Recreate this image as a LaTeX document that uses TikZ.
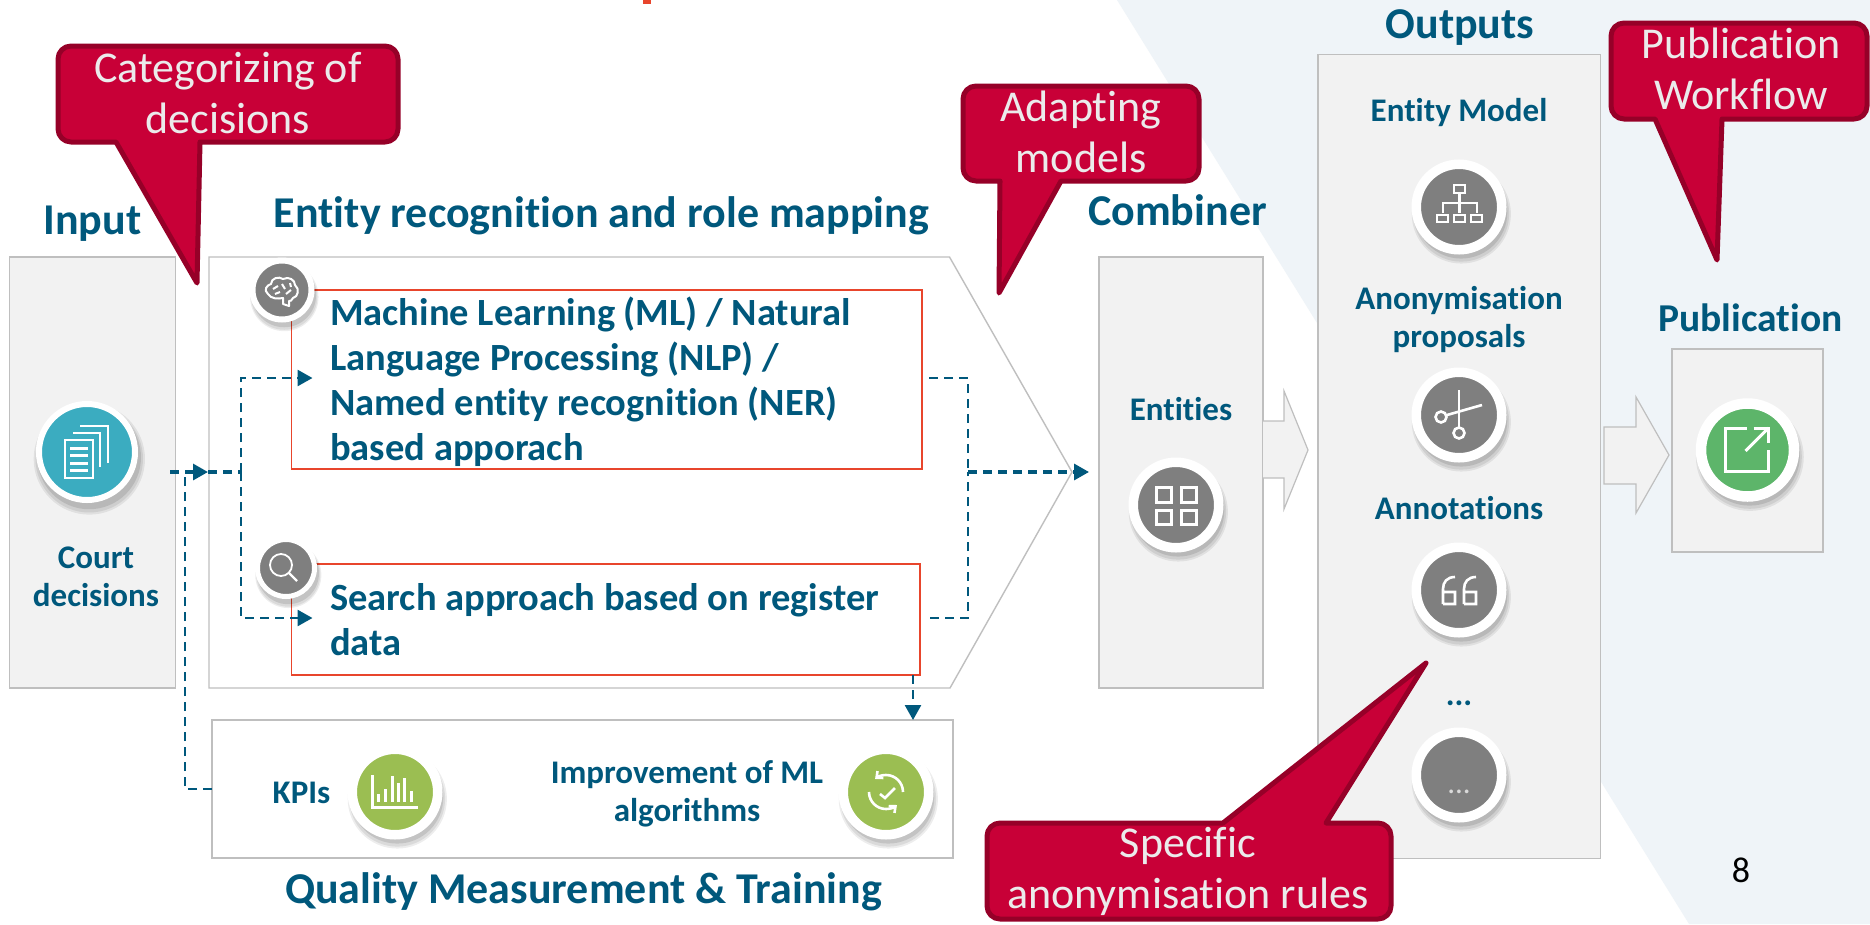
\documentclass[tikz,border=0pt]{standalone}
\usepackage{fontspec}
\setmainfont[Ligatures=NoCommon]{Carlito}
\usetikzlibrary{arrows.meta,shadows}

\definecolor{slate}{HTML}{00587C}
\definecolor{crimson}{HTML}{C80037}
\definecolor{crimsonedge}{HTML}{960028}
\definecolor{panelfill}{HTML}{F2F2F2}
\definecolor{panelline}{HTML}{BFBFBF}
\definecolor{redline}{HTML}{E8452C}
\definecolor{paleblue}{HTML}{EFF4F8}
\definecolor{iconteal}{HTML}{3BACC0}
\definecolor{icongrey}{HTML}{7F7F7F}
\definecolor{iconlime}{HTML}{9BBE52}
\definecolor{icongreen}{HTML}{5DB56A}

\tikzset{
  panel/.style={draw=panelline, fill=panelfill, line width=1.4pt, inner sep=0pt, outer sep=0pt},
  plainpanel/.style={panel, fill=white},
  redbox/.style={draw=redline, fill=white, line width=1.2pt, inner sep=0pt, outer sep=0pt},
  heading/.style={text=slate, font=\fontsize{44}{48}\selectfont\bfseries, anchor=base, inner sep=0pt},
  itemtext/.style={text=slate, font=\fontsize{38.5}{45}\selectfont\bfseries, anchor=base west, align=left, inner sep=0pt},
  smalltext/.style={text=slate, font=\fontsize{33}{38}\selectfont\bfseries, anchor=base, align=center, inner sep=0pt},
  calloutbody/.style={draw=crimsonedge, fill=crimson, line width=5pt, line join=round},
  callouttext/.style={text=white!92!black, font=\fontsize{44}{51}\selectfont, anchor=base, align=center, inner sep=0pt},
  softshadow/.style={
    general shadow={shadow xshift=2pt, shadow yshift=-6pt, shadow scale=1.16, fill=black, opacity=.07},
    general shadow={shadow xshift=2pt, shadow yshift=-6pt, shadow scale=1.12, fill=black, opacity=.08},
    general shadow={shadow xshift=2pt, shadow yshift=-5pt, shadow scale=1.08, fill=black, opacity=.1}},
  badge/.style={circle, draw=white, inner sep=0pt, outer sep=0pt, softshadow},
  bigbadge/.style={badge, minimum size=85.5pt, line width=9.5pt, fill=#1},
  tinybadge/.style={badge, minimum size=59pt, line width=6pt, fill=icongrey},
  iconline/.style={draw=white, line width=2.6pt},
  flow/.style={draw=slate, line width=2.6pt, dash pattern=on 9pt off 6pt},
  boldflow/.style={flow, line width=3.2pt},
  flowtip/.style={-{Triangle[length=15pt, width=16pt]}},
  blockarrow/.style={draw=panelline, fill=panelfill, line width=1.2pt, line join=miter}
}

\begin{document}
\begin{tikzpicture}[x=1pt, y=-1pt]
  \useasboundingbox (0,0) rectangle (1870,924);

  %%%%%%%%%%%%%%%%%%%%%%%%%%%%%%
  % Page background            %
  %%%%%%%%%%%%%%%%%%%%%%%%%%%%%%
  \fill[white] (0,0) rectangle (1870,924);
  \fill[paleblue] (1117,0) -- (1870,0) -- (1870,924) -- (1689,924) -- cycle;
  \fill[redline] (643,0) rectangle (651,4);

  %%%%%%%%%%%%%%%%%%%%%%%%%%%%%%
  % Panels and block arrows    %
  %%%%%%%%%%%%%%%%%%%%%%%%%%%%%%
  \node[panel, minimum width=166pt, minimum height=431pt] (inputbox) at (92.5,472.5) {};
  \draw[plainpanel] (209,257) -- (949.5,257) -- (1072,472) -- (950,688) -- (209,688) -- cycle;
  \node[plainpanel, minimum width=741pt, minimum height=138pt] (qualitybox) at (582.5,789) {};
  \node[panel, minimum width=164pt, minimum height=431pt] (combinerbox) at (1181,472.5) {};
  \node[panel, minimum width=282.5pt, minimum height=804pt] (outputbox) at (1459.25,456.5) {};
  \node[panel, minimum width=151pt, minimum height=203pt] (publishbox) at (1747.5,450.5) {};
  % Arrows between the panels
  \draw[blockarrow] (1263,421) -- (1284,421) -- (1284,391) -- (1308,450) -- (1284,509) -- (1284,478) -- (1263,478);
  \draw[blockarrow] (1604,427) -- (1636,427) -- (1636,397) -- (1669,455) -- (1636,513) -- (1636,484) -- (1604,484) -- cycle;

  %%%%%%%%%%%%%%%%%%%%%%%%%%%%%%
  % Two recognition approaches %
  %%%%%%%%%%%%%%%%%%%%%%%%%%%%%%
  \node[redbox, minimum width=630.5pt, minimum height=179pt] (mlbox) at (606.75,379.5) {};
  \node[redbox, minimum width=628.5pt, minimum height=111pt] (searchbox) at (605.75,619.5) {};
  \node[itemtext] (mltext) at (330,460) {Machine Learning (ML) / Natural\\Language Processing (NLP) /\\Named entity recognition (NER)\\based apporach};
  \node[itemtext] (searchtext) at (330,655) {Search approach based on register\\data};

  %%%%%%%%%%%%%%%%%%%%%%%%%%%%%%
  % Headings and labels        %
  %%%%%%%%%%%%%%%%%%%%%%%%%%%%%%
  \node[heading] (inputhead) at (92.5,234) {Input};
  \node[heading] (entityhead) at (601.5,227) {Entity recognition and role mapping};
  \node[heading] (combinerhead) at (1177.5,225) {Combiner};
  \node[heading] (outputhead) at (1460,38) {Outputs};
  \node[heading, font=\fontsize{39.5}{46}\selectfont\bfseries] (publishhead) at (1750.5,331) {Publication};
  \node[heading] (qualityhead) at (583.5,903) {Quality Measurement \& Training};

  \node[smalltext] (courttext) at (96,606) {Court\\decisions};
  \node[smalltext] (entitiestext) at (1181,420) {Entities};
  \node[smalltext] (modeltext) at (1459,121) {Entity Model};
  \node[smalltext] (anontext) at (1459,347) {Anonymisation\\proposals};
  \node[smalltext] (annotext) at (1459,519) {Annotations};
  \node[smalltext] (moretext) at (1459,705) {...};
  \node[smalltext] (kpitext) at (301.5,803) {KPIs};
  \node[smalltext] (improvetext) at (687,821) {Improvement of ML\\algorithms};
  \node[anchor=base, inner sep=0pt, font=\fontsize{36}{40}\selectfont] (pagenumber) at (1741,882) {8};

  %%%%%%%%%%%%%%%%%%%%%%%%%%%%%%
  % Dashed connectors          %
  %%%%%%%%%%%%%%%%%%%%%%%%%%%%%%
  \coordinate (docsout) at (170,472);
  \coordinate (entityin) at (208,472);
  \coordinate (feedback) at (185,472);
  \coordinate (split) at (241,472);
  \coordinate (mlin) at (312.5,378);
  \coordinate (searchin) at (312.5,618);
  \coordinate (mlout) at (929,378);
  \coordinate (searchout) at (930,618);
  \coordinate (merge) at (968,472);
  \coordinate (combinerin) at (1089,472);
  \coordinate (searchdrop) at (913,675);

  \draw[flow] (qualitybox.west) -| (feedback);
  \draw[boldflow, flowtip] (docsout) -- (entityin);
  \draw[boldflow] (entityin) -- (split);
  \draw[flow, flowtip] (split) |- (mlin);
  \draw[flow, flowtip] (split) |- (searchin);
  \draw[flow] (mlout) -| (merge);
  \draw[flow] (searchout) -| (merge);
  \draw[boldflow, flowtip] (merge) -- (combinerin);
  \draw[flow, flowtip] (searchdrop) -- (searchdrop |- qualitybox.north);

  %%%%%%%%%%%%%%%%%%%%%%%%%%%%%%
  % Round icons                %
  %%%%%%%%%%%%%%%%%%%%%%%%%%%%%%
  % Stack of documents
  \node[badge, minimum size=96pt, line width=6pt, fill=iconteal] (docsicon) at (87,452) {};
  \begin{scope}[shift={(docsicon.center)}, iconline]
    \draw (-22,-12) rectangle (6,26);
    \foreach \bary in {-4,3,11,18} \draw[line width=3pt] (-17,\bary) -- (1,\bary);
    \draw (-14,-19) -- (13,-19) -- (13,15);
    \draw (-7,-26) -- (21,-26) -- (21,11);
  \end{scope}

  % Brain
  \node[tinybadge] (brainicon) at (282,290) {};
  \begin{scope}[shift={(brainicon.center)}, iconline, line width=2pt, line join=round]
    \draw (-14,4) .. controls (-19,0) and (-15,-5) .. (-11,-6) .. controls (-11,-12) and (-3,-14) .. (1,-11)
      .. controls (7,-14) and (13,-10) .. (13,-5) .. controls (18,-1) and (16,7) .. (11,8)
      .. controls (10,11) and (8,11) .. (7,11) -- (7,16) -- (1,14) -- (1,8) .. controls (-4,9) and (-11,9) .. (-14,4);
    \draw (-9,-1) -- (-4,-4) (0,-6) -- (3,-1) (-7,4) -- (-2,2) (4,4) -- (9,0) (8,-7) -- (9,-3);
  \end{scope}

  % Magnifier
  \node[tinybadge, minimum size=57pt, line width=5pt] (searchicon) at (286,568) {};
  \begin{scope}[shift={(searchicon.center)}, iconline, line width=1.8pt]
    \draw (-5,-3) circle (11);
    \draw[line width=2.4pt] (3,5) -- (11,13);
  \end{scope}

  % Bars
  \node[bigbadge=iconlime] (kpiicon) at (395,792) {};
  \begin{scope}[shift={(kpiicon.center)}, iconline]
    \foreach \barx/\bartop in {-17/2,-10/-3,-3/-16,3/-9,9/-14,16/-1} \draw[line width=3pt] (\barx,10) -- (\barx,\bartop);
    \draw[line width=3pt] (-23,-17) -- (-23,15) -- (23,15);
  \end{scope}

  % Cycle with a check mark
  \node[bigbadge=iconlime] (improveicon) at (886,792) {};
  \begin{scope}[shift={(improveicon.center)}, iconline]
    \draw[-{Straight Barb[length=5pt, width=9pt]}] (17,0) arc[start angle=0, end angle=-130, radius=17];
    \draw[-{Straight Barb[length=5pt, width=9pt]}] (-17,0) arc[start angle=180, end angle=50, radius=17];
    \draw (-6,2) -- (-1,6) -- (9,-4);
  \end{scope}

  % Four squares
  \node[bigbadge=icongrey] (entitiesicon) at (1176,505) {};
  \begin{scope}[shift={(entitiesicon.center)}, iconline, line width=3pt]
    \draw (-20,-18) rectangle (-5,-3);
    \draw (5,-18) rectangle (20,-3);
    \draw (-20,5) rectangle (-5,19);
    \draw (5,5) rectangle (20,19);
  \end{scope}

  % Hierarchy
  \node[bigbadge=icongrey] (modelicon) at (1459,207) {};
  \begin{scope}[shift={(modelicon.center)}, iconline]
    \draw (-5,-22) rectangle (6,-14);
    \draw (0.5,-14) -- (0.5,-4);
    \draw (-16,6) -- (-16,-4) -- (18,-4) -- (18,6);
    \draw (0.5,-4) -- (0.5,6);
    \draw (-22,8) rectangle (-11,15);
    \draw (-5,8) rectangle (6,15);
    \draw (12,8) rectangle (23,15);
  \end{scope}

  % Scissors
  \node[bigbadge=icongrey] (anonicon) at (1459,415) {};
  \begin{scope}[shift={(anonicon.center)}, iconline]
    \draw (0,-25) -- (0,12);
    \draw (0,18) circle (5.5);
    \draw (-12,0) -- (23,-10);
    \draw (-18,2) circle (5.5);
  \end{scope}

  % Quotation marks
  \node[bigbadge=icongrey] (annoicon) at (1459,590) {};
  \begin{scope}[shift={(annoicon.center)}, iconline]
    \draw (-16,14) -- (-4,14) -- (-4,2) -- (-16,2) -- (-16,14) -- (-16,-1) .. controls (-16,-8) and (-12,-13) .. (-4,-13);
    \draw (5,14) -- (17,14) -- (17,2) -- (5,2) -- (5,14) -- (5,-1) .. controls (5,-8) and (9,-13) .. (17,-13);
  \end{scope}

  % Placeholder
  \node[bigbadge=icongrey] (moreicon) at (1459,775) {};
  \node[anchor=base, inner sep=0pt, text=white!85!black, font=\fontsize{31}{38}\selectfont] (moredots) at (1459,793) {...};

  % Opening outwards
  \node[badge, minimum size=93pt, line width=10.5pt, fill=icongreen] (publishicon) at (1747.5,450) {};
  \begin{scope}[shift={(publishicon.center)}, iconline, line width=3pt]
    \draw (-1,-22) -- (-22,-22) -- (-22,21) -- (21,21) -- (21,0);
    \draw (-2,1) -- (21,-22);
    \draw (6,-22) -- (21,-22) -- (21,-7);
  \end{scope}

  %%%%%%%%%%%%%%%%%%%%%%%%%%%%%%
  % Callouts                   %
  %%%%%%%%%%%%%%%%%%%%%%%%%%%%%%
  \draw[calloutbody, rounded corners=13] (228,46) -- (398,46) -- (398,142) [sharp corners] -- (200,142) -- (197,283) -- (116,142) [rounded corners=13] -- (58,142) -- (58,46) -- cycle;
  \node[callouttext] (categorizetext) at (228,133) {Categorizing of\\decisions};

  \draw[calloutbody, rounded corners=13] (1081,86) -- (1199,86) -- (1199,181) [sharp corners] -- (1061,181) -- (999,293) -- (1000,181) [rounded corners=13] -- (963,181) -- (963,86) -- cycle;
  \node[callouttext] (adaptingtext) at (1081,172) {Adapting\\models};

  \draw[calloutbody, rounded corners=13] (1741,23) -- (1867,23) -- (1867,119) [sharp corners] -- (1722,119) -- (1717,260) -- (1655,119) [rounded corners=13] -- (1611,119) -- (1611,23) -- cycle;
  \node[callouttext] (workflowtext) at (1741,109) {Publication\\Workflow};

  \draw[calloutbody, rounded corners=13] (1188,919) -- (987,919) -- (987,823) [sharp corners] -- (1223,823) -- (1426,663) -- (1326,823) [rounded corners=13] -- (1391,823) -- (1391,919) -- cycle;
  \node[callouttext] (rulestext) at (1188,908) {Specific\\anonymisation rules};

\end{tikzpicture}
\end{document}
